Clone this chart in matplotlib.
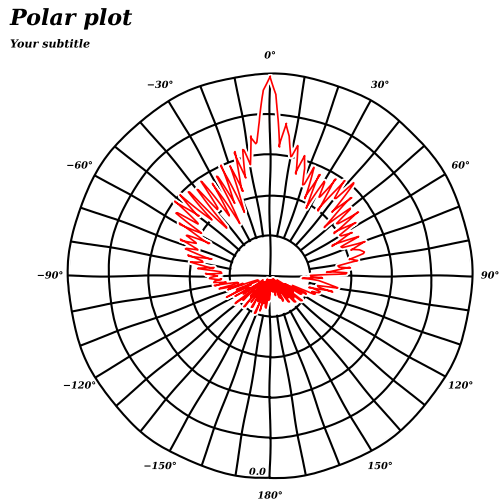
import numpy as np
import matplotlib
matplotlib.use("Agg")
import matplotlib.pyplot as plt

# antenna-like gain pattern, dB, every 2 degrees from -180 to 180
angles_deg = np.arange(-180, 181, 2)
gain_db = [
    -47, -44, -49, -45, -42, -48, -43, -46, -41, -49,
    -44, -40, -47, -43, -48, -41, -45, -49, -42, -46,
    -40, -47, -43, -48, -41, -45, -39, -46, -42, -48,
    -40, -44, -38, -45, -41, -47, -39, -43, -37, -42,
    -36, -39, -36, -38, -35, -37, -34, -38, -32, -36,
    -30, -33, -29, -35, -28, -31, -26, -30, -27, -33,
    -24, -30, -22, -28, -20, -27, -20, -30, -21, -34,
    -22, -29, -21, -32, -23, -35, -22, -30, -20, -33,
    -21, -28, -18, -25, -18, -22, -15, -17, -12, -4,
    -0.5,
    -5, -18, -12, -15, -20, -17, -24, -19, -22, -26,
    -21, -29, -22, -31, -23, -27, -21, -30, -20, -25,
    -19, -28, -22, -32, -24, -29, -23, -31, -25, -30,
    -27, -33, -26, -31, -25, -29, -27, -26, -30, -28,
    -33, -30, -36, -31, -40, -37, -42, -38, -36, -33,
    -38, -34, -40, -37, -39, -38, -44, -40, -46, -41,
    -48, -43, -45, -40, -47, -42, -49, -41, -46, -43,
    -48, -42, -49, -45, -47, -43, -49, -44, -48, -46,
    -49, -45, -48, -47, -49, -46, -48, -47, -49, -47,
]

r_ticks = [-40, -30, -20, -10, 0]
r_labels = ["", "", "", "", "0.0"]
theta_major = [0, 30, 60, 90, 120, 150, 180, -150, -120, -90, -60, -30]
theta_labels = ["0°", "30°", "60°", "90°", "120°", "150°", "180°",
                "−150°", "−120°", "−90°", "−60°", "−30°"]

plt.xkcd(scale=0.6, length=100, randomness=2)
plt.rcParams["font.family"] = ["DejaVu Serif"]
plt.rcParams["font.style"] = "italic"
plt.rcParams["font.weight"] = "bold"

fig = plt.figure(figsize=(5.02, 5.0), dpi=100)
ax = fig.add_axes([0.1355, 0.044, 0.805, 0.808], projection="polar")

ax.set_theta_zero_location("N")
ax.set_theta_direction(-1)
ax.set_xticks(np.deg2rad(theta_major))
ax.set_xticklabels(theta_labels)
ax.set_thetalim(-np.pi, np.pi)

ax.set_rlim(-50, 0)
ax.set_rticks(r_ticks)
ax.set_yticklabels(r_labels)
ax.set_rlabel_position(186)

ax.tick_params(axis="x", length=0, pad=6, labelsize=7)
ax.tick_params(axis="y", labelsize=7)

# spokes every 10 degrees stop at the inner ring, the cross goes through the centre
ax.xaxis.grid(False)
ax.yaxis.grid(True, color="black", lw=1.5)
for a in range(-180, 180, 10):
    r0 = -50 if a % 90 == 0 else -40
    ax.plot([np.deg2rad(a)] * 2, [r0, 0], color="black", lw=1.5, zorder=2.6,
            path_effects=[])
ax.spines["polar"].set_linewidth(1.5)

ax.plot(np.deg2rad(angles_deg), gain_db, color="red", lw=1.2, zorder=3)
ax.set_rlim(-50, 0)

fig.text(0.02, 0.962, "Polar plot", fontsize=16, ha="left", va="center")
fig.text(0.02, 0.912, "Your subtitle", fontsize=8, ha="left", va="center")

fig.savefig("out.png", dpi=100)
